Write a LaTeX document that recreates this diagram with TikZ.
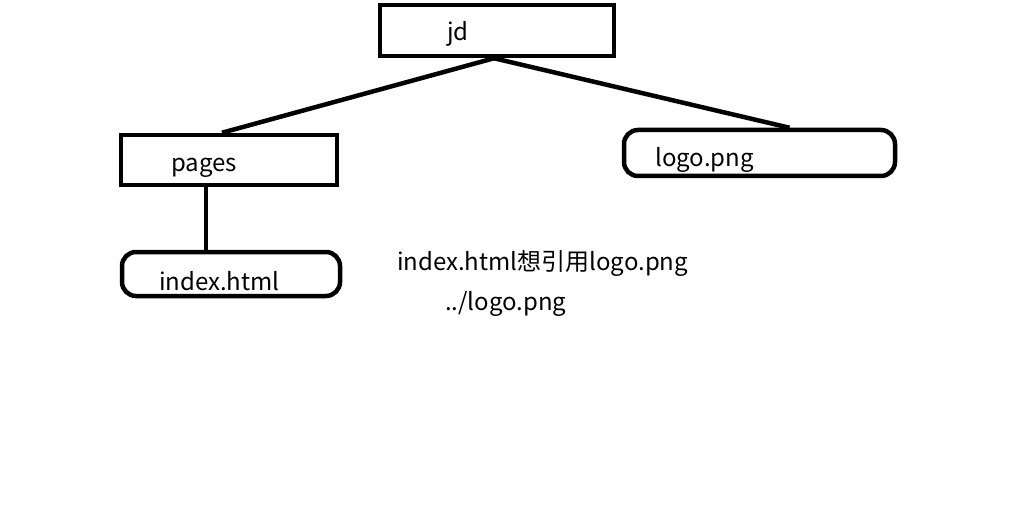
\documentclass[tikz,border=0pt]{standalone}
\usepackage{fontspec}
\setmainfont{Noto Sans CJK SC}
\begin{document}
\begin{tikzpicture}[x=1pt,y=-1pt,
  box/.style={draw=black,line width=4.5pt,rectangle,inner sep=0pt},
  rbox/.style={box,rounded corners=14pt},
  lbl/.style={inner sep=0pt,anchor=west,font=\fontsize{24}{28}\selectfont},
  conn/.style={line width=4.5pt}]
\useasboundingbox[fill=white] (0,0) rectangle (1018,524);
\node[box,minimum width=234pt,minimum height=51pt] (jd) at (497,30.5) {};
\node[box,minimum width=216pt,minimum height=50pt] (pages) at (229,160) {};
\node[rbox,minimum width=218pt,minimum height=44pt] (index) at (231,274) {};
\node[rbox,minimum width=271pt,minimum height=46pt] (logo) at (759.5,153) {};
\node[lbl] (tjd) at (447,34) {jd};
\node[lbl] (tpages) at (171,168) {pages};
\node[lbl] (tindex) at (159,281) {index.html};
\node[lbl] (tlogo) at (655,160) {logo.png};
\node[lbl] (t1) at (397,263) {index.html想引用logo.png};
\node[lbl] (t2) at (445,304) {../logo.png};
\draw[conn] ([xshift=-3pt]jd.south) -- ([xshift=-7pt]pages.north);
\draw[conn] ([xshift=-3pt]jd.south) -- ([xshift=30pt]logo.north);
\draw[conn] ([xshift=-23pt]pages.south) -- ([xshift=-25pt]index.north);
\end{tikzpicture}
\end{document}
